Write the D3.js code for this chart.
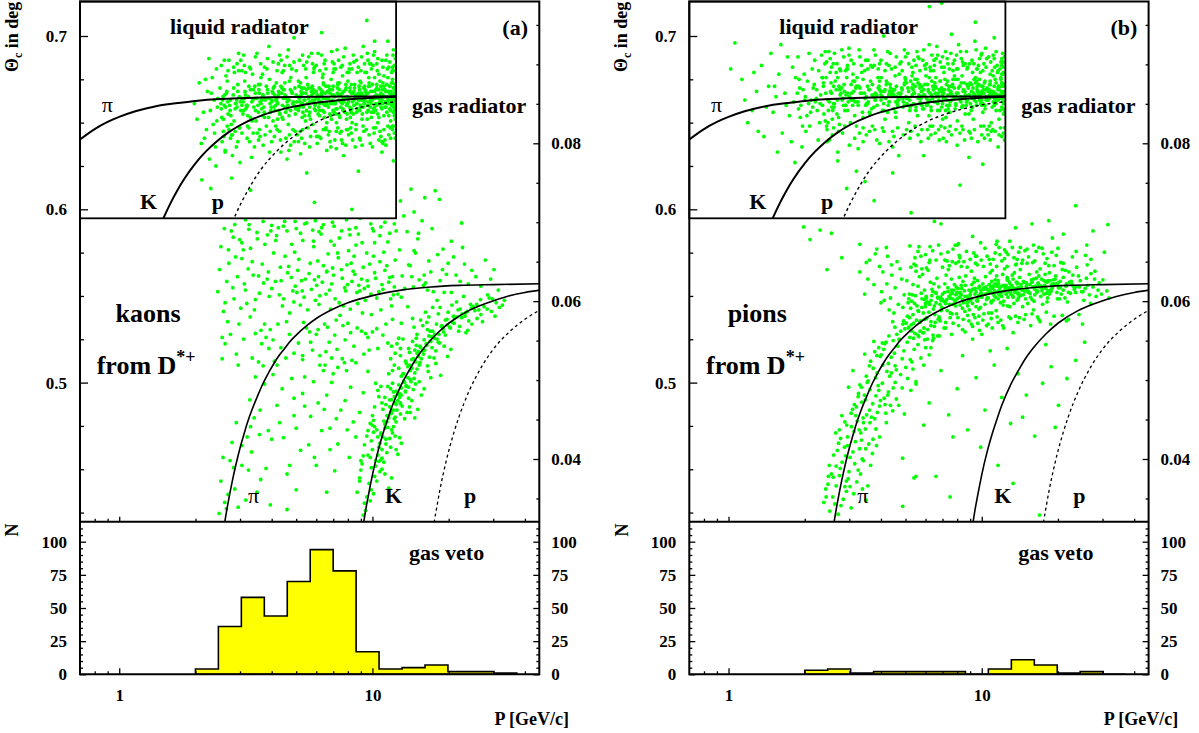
<!DOCTYPE html>
<html>
<head>
<meta charset="utf-8">
<title>Cherenkov angle vs momentum, kaons and pions from D*+</title>
<script src="https://d3js.org/d3.v7.min.js"></script>
<style>
  body { margin: 0; background: #fff; }
  svg { display: block; font-family: "Liberation Serif", "Times New Roman", serif; font-weight: bold; }
</style>
</head>
<body>
<script>
// ---- gas veto histograms (P in GeV/c) ----
var binEdges = [2.0, 2.464, 3.036, 3.741, 4.609, 5.679, 6.997, 8.621, 10.62, 13.09, 16.13, 19.87, 24.48, 30.17, 37.17];
var kaonVeto = [4, 36, 58, 44, 70, 94, 78, 17, 4, 5, 7, 2, 2, 1];
var pionVeto = [3, 4, 1, 2, 2, 2, 2, 0, 4, 11, 7, 1, 2, 0];

// ---- expected angles [P, theta] ----
var liqPi = [[0.7,.6403],[0.8,.6463],[0.9,.6504],[1.0,.6533],[1.15,.6564],[1.3,.6584],[1.5,.6603],[1.7,.6613],[2.0,.6625],[2.5,.6636],[3,.6641],[4,.6646],[6,.6650],[9,.6651],[13,.6652]];
var liqK = [[1.47,.5923],[1.5,.5953],[1.6,.6040],[1.7,.6112],[1.8,.6172],[2.0,.6265],[2.2,.6334],[2.4,.6386],[2.7,.6444],[3,.6485],[3.6,.6538],[4.5,.6581],[6,.6615],[8,.6634],[10,.6643],[13,.6650]];
var liqP = [[2.8,.5927],[2.9,.5978],[3.2,.6102],[3.6,.6223],[4.2,.6337],[5,.6432],[6,.6502],[7.5,.6558],[9,.6589],[13,.6625]];
var gasPi = [[2.58,.0309],[2.62,.0323],[2.7,.0347],[2.8,.0373],[2.9,.0395],[3.0,.0414],[3.1,.0430],[3.2,.0445],[3.35,.0463],[3.5,.0478],[3.7,.0496],[3.9,.0510],[4.1,.0522],[4.3,.0532],[4.5,.0540],[4.7,.0548],[5.0,.0557],[5.5,.0569],[6,.0578],[7,.0590],[8,.0598],[10,.0607],[13,.0614],[17,.0618],[22,.0620],[30,.0621],[46,.0622]];
var gasK = [[9.2,.0316],[9.26,.0322],[9.4,.0335],[9.6,.0351],[9.8,.0366],[10,.0380],[10.5,.0409],[11,.0432],[11.5,.0451],[12,.0468],[13,.0494],[14,.0513],[15,.0529],[16,.0541],[18,.0559],[20,.0572],[24,.0588],[28,.0597],[34,.0606],[40,.0611],[46,.0614]];
var gasP = [[17.4,.0312],[17.6,.0323],[18,.0341],[18.5,.0362],[19,.0380],[20,.0410],[21,.0434],[22,.0454],[24,.0485],[27,.0517],[30,.0539],[35,.0562],[40,.0577],[46,.0589]];

// ---- measured tracks [P, theta] ----
var kaonLiquid = [
[2.03,.652],[2.31,.667],[2.11,.638],[2.44,.659],[2.19,.675],[2.38,.644],[1.98,.661],[2.27,.629],[2.42,.681],[2.15,.656],[2.35,.649],[2.23,.668],[2.07,.673],[2.4,.636],[2.29,.657],[2.45,.664],[2.33,.676],[2.21,.646],[2.12,.617],[2.43,.651],[2.37,.663],[2.26,.687],[2.17,.641],[2.41,.625],[2.3,.612],
[3.42,.664],[7.9,.652],[5.13,.671],[10.8,.659],[2.71,.646],[6.34,.668],[4.27,.657],[11.9,.673],[8.66,.661],[3.08,.655],[9.47,.679],[5.82,.649],[2.56,.663],[7.18,.658],[4.71,.683],[12.2,.654],[3.86,.667],[6.02,.642],[10.2,.665],[2.94,.672],
[8.15,.670],[4.05,.651],[11.3,.662],[5.47,.676],[3.21,.648],[9.92,.656],[6.71,.664],[2.63,.659],[7.54,.645],[4.48,.669],[12.0,.680],[3.63,.661],[5.96,.657],[10.5,.650],[2.82,.666],[8.93,.674],[6.48,.660],[4.91,.639],[11.6,.668],[3.3,.653],
[7.36,.666],[5.27,.661],[9.18,.648],[2.5,.670],[6.87,.675],[3.97,.657],[10.9,.663],[4.36,.686],[8.4,.655],[12.3,.659],[3.14,.668],[5.69,.652],[7.71,.662],[2.77,.649],[9.73,.671],[4.59,.664],[6.19,.654],[11.1,.677],[3.51,.644],[8.79,.667],
[5.04,.658],[10.3,.669],[2.88,.661],[6.6,.650],[4.17,.673],[9.33,.663],[3.74,.656],[7.05,.681],[11.8,.651],[5.58,.665],[2.59,.642],[8.27,.658],[4.82,.667],[10.7,.674],[6.26,.662],[3.36,.678],[12.1,.663],[7.9,.646],[5.33,.659],[2.98,.665],
[9.61,.657],[4.43,.652],[6.95,.669],[3.18,.660],[11.4,.656],[5.88,.681],[8.53,.664],[2.67,.674],[7.44,.653],[4.0,.662],[10.1,.647],[6.42,.672],[3.56,.669],[12.3,.666],[5.19,.645],[8.98,.660],[2.76,.654],[7.27,.670],[4.65,.649],[11.0,.661],
[3.92,.675],[6.14,.659],[9.06,.667],[5.41,.663],[2.53,.658],[10.6,.653],[7.62,.677],[4.23,.661],[11.7,.671],[3.27,.639],[8.31,.650],[5.74,.668],[6.79,.655],[2.91,.663],[9.85,.684],[4.54,.656],[12.0,.648],[3.68,.665],[7.08,.661],[5.1,.674],
[8.72,.665],[2.65,.667],[6.53,.646],[4.11,.666],[10.4,.672],[3.45,.657],[7.83,.669],[5.62,.654],[11.2,.665],[2.84,.651],[9.27,.661],[4.76,.676],[6.22,.665],[3.09,.662],[8.07,.679],[12.2,.657],[5.29,.667],[3.81,.648],[7.49,.659],[10.0,.663],
[4.39,.670],[6.92,.663],[2.73,.660],[9.54,.652],[5.54,.661],[11.5,.676],[3.6,.672],[8.44,.668],[4.96,.655],[7.21,.650],[10.8,.667],[3.02,.657],[6.38,.678],[12.1,.670],[5.91,.663],[2.58,.652],[9.01,.673],[4.29,.645],[7.66,.664],[3.39,.669],
[11.9,.660],[5.16,.662],[8.23,.656],[2.96,.680],[6.67,.668],[4.6,.658],[10.2,.676],[3.77,.663],[7.97,.661],[5.79,.671],[12.3,.652],[3.24,.665],[9.41,.666],[4.87,.662],[6.06,.666],[2.69,.655],[11.3,.668],[8.62,.649],[4.13,.657],[7.31,.673],
[3.53,.660],[9.79,.664],[5.36,.670],[2.8,.643],[6.99,.657],[10.9,.658],[4.45,.664],[8.04,.664],[3.13,.674],[12.0,.675],[5.65,.659],[7.58,.667],[2.61,.666],[9.12,.655],[4.02,.668],[6.46,.653],[11.6,.663],[3.89,.653],[8.86,.671],[5.22,.666],
[7.12,.662],[10.4,.660],[4.51,.673],[2.87,.658],[6.29,.667],[9.36,.669],[3.34,.662],[5.99,.664],[11.1,.654],[4.19,.664],[8.35,.662],[2.54,.653],[7.78,.656],[12.2,.666],[5.49,.657],[3.72,.659],[9.67,.676],[6.57,.664],[4.68,.654],[10.6,.669],
[3.01,.662],[8.51,.672],[5.07,.665],[11.7,.658],[6.83,.661],[2.75,.663],[9.95,.668],[4.32,.655],[7.4,.673],[12.3,.672],[3.58,.667],[5.76,.666],[10.1,.656],[4.94,.670],[6.16,.670],[2.92,.659],[8.91,.657],[3.98,.659],[7.01,.666],[11.4,.665],
[5.31,.656],[9.2,.659],[2.68,.662],[6.73,.671],[4.08,.659],[10.7,.662],[3.43,.671],[8.12,.659],[5.85,.662],[12.1,.661],[3.16,.658],[7.59,.661],[4.74,.669],[9.88,.661],[6.36,.657],[2.57,.665],[11.0,.673],[4.41,.660],[8.69,.658],[3.65,.663],
[6.1,.664],[3.47,.651],[9.9,.653],[2.66,.668],[7.93,.665],[4.84,.661],[11.2,.669],[5.23,.668],[3.81,.671],[8.47,.663],[12.2,.667],[4.26,.668],[6.89,.652],[2.99,.647],[10.3,.661],[5.66,.662],[7.35,.663],[3.12,.664],[9.03,.663],[4.52,.666],
[10.6,.664],[5.44,.651],[2.83,.670],[7.65,.658],[3.69,.654],[8.9,.666],[6.51,.667],[4.14,.663],[11.8,.657],[5.02,.662],[3.22,.654],[9.58,.667],[6.98,.661],[2.52,.661],[8.18,.653],[4.63,.660],[12.3,.663],[3.94,.661],[7.16,.655],[5.84,.669],
[9.3,.671],[4.22,.652],[6.62,.660],[3.37,.663],[11.0,.666],[5.14,.664],[7.47,.662],[2.74,.657],[10.2,.659],[4.97,.658],[8.59,.666],[3.55,.656],[6.2,.661],[12.0,.664],[5.58,.670],[2.89,.661],[9.77,.662],[4.37,.667],[7.87,.670],[3.05,.660],
[6.41,.661],[11.6,.661],[3.63,.676],[8.26,.667],[5.28,.653],[2.6,.660],[9.09,.666],[4.69,.663],[7.26,.667],[10.8,.671],[3.19,.659],[5.93,.660],[12.1,.659],[4.06,.670],[6.77,.669],[2.94,.668],[8.78,.664],[3.76,.664],[11.3,.659],[5.37,.663],
[3.3,.611],[5.9,.604],[8.8,.622],[4.6,.629],[10.9,.633],[2.78,.618],[7.2,.635],[6.3,.702],[9.5,.709],[11.5,.697],[4.9,.699],[3.9,.694],[7.7,.631],[12.1,.628],[5.5,.621],[2.62,.633],[8.3,.600],[10.2,.697]
];
var kaonLiquidSpread = [
[3.27,.682],[8.9,.641],[5.6,.688],[2.62,.634],[10.4,.684],[4.2,.646],[6.9,.691],[12.0,.646],[3.7,.637],[7.6,.683],[2.85,.679],[9.7,.643],[4.65,.692],[11.3,.686],[5.2,.632],[6.2,.680],[3.05,.644],[8.4,.689],[10.9,.639],[4.9,.685],
[7.1,.640],[2.53,.683],[5.95,.645],[9.2,.694],[3.45,.688],[11.8,.641],[6.6,.634],[4.4,.679],[8.1,.681],[2.75,.641],[10.1,.689],[5.35,.683],[3.92,.633],[12.3,.687],[7.35,.686],[4.05,.685],[9.45,.646],[6.05,.638],[2.96,.690],[11.0,.682],
[5.05,.643],[8.65,.686],[3.12,.683],[10.7,.645],[6.45,.684],[2.67,.648],[7.85,.637],[4.55,.641],[12.1,.692],[3.58,.646],[9.0,.680],[5.75,.690],[2.9,.636],[11.5,.648],[6.75,.645],[4.3,.689],[8.25,.644],[3.33,.630],[10.2,.691],[7.0,.679],
[3.83,.681],[9.9,.681],[6.3,.689],[2.58,.645],[11.6,.643],[4.75,.637],[8.55,.636],[5.45,.681],[3.02,.686],[7.45,.644],[10.5,.687],[4.15,.648],[12.2,.683],[6.15,.642],[2.8,.631],[9.55,.690],[5.85,.679],[3.5,.690],[8.0,.646],[11.2,.640],
[4.45,.680],[7.25,.692],[2.71,.686],[10.0,.636],[5.15,.686],[8.8,.682],[3.2,.641],[11.9,.679],[6.55,.647],[4.0,.639],[9.3,.684],[2.98,.647],[7.7,.688],[5.65,.636],[12.3,.641],[3.62,.684],[10.6,.678],[6.0,.683],[4.85,.646],[8.35,.640],
[2.64,.677],[9.8,.638],[5.25,.641],[7.95,.679],[3.38,.644],[11.4,.689],[4.6,.688],[6.35,.676],[10.3,.647],[3.0,.627],[8.45,.685],[5.55,.647],[12.0,.682],[3.77,.643],[7.15,.681],[4.25,.684],[9.1,.637],[2.83,.682],[6.8,.639],[11.1,.646],
[4.1,.642],[6.5,.686],[8.2,.647],[3.15,.679],[10.8,.642],[5.0,.680],[2.55,.639],[7.55,.640],[9.6,.686],[3.55,.640],[11.7,.685],[6.1,.690],[4.7,.643],[8.7,.679],[2.92,.684],[10.05,.683],[5.4,.638],[7.3,.647],[12.2,.644],[3.85,.687],
[5.8,.684],[3.25,.647],[9.35,.679],[6.95,.685],[4.35,.633],[11.3,.637],[2.69,.680],[8.05,.643],[5.3,.689],[10.45,.680],[3.68,.678],[7.8,.693],[4.95,.645],[12.1,.648],[6.25,.641],[2.87,.645],[9.05,.688],[5.7,.642],[11.6,.682],[3.42,.636],
[8.6,.646],[4.5,.683],[6.7,.643],[3.1,.689],[10.6,.640],[7.05,.684],[2.6,.686],[9.75,.684],[5.1,.639],[12.3,.680],[3.95,.645],[7.5,.682],[4.8,.681],[11.0,.638],[6.4,.646],[3.3,.681],[8.3,.681],[5.5,.685],[10.15,.644],[2.78,.643],
[6.55,.681],[11.75,.647],[3.6,.642],[8.95,.640],[4.2,.680],[7.2,.645],[5.9,.682],[2.94,.639],[10.9,.686],[4.68,.634],[9.25,.645],[3.05,.680],[6.85,.636],[12.05,.689],[5.3,.646],[8.15,.684],[3.75,.682],[7.62,.638],[11.45,.681],[4.33,.640]
];
var kaonLiquidCore = [
[4.6,.662],[9.4,.668],[6.1,.655],[11.5,.664],[3.3,.669],[7.9,.660],[5.2,.673],[10.3,.657],[3.9,.664],[8.5,.670],[12.0,.661],[4.3,.655],[6.8,.667],[9.8,.659],[5.6,.664],[3.1,.657],[11.1,.671],[7.4,.654],[4.8,.668],[8.8,.663],
[6.4,.673],[10.7,.666],[3.6,.662],[5.9,.658],[12.3,.669],[7.1,.665],[9.1,.652],[4.1,.671],[8.2,.657],[11.8,.663],[3.45,.667],[6.6,.661],[10.0,.672],[5.4,.654],[7.7,.668],[4.5,.659],[9.6,.662],[12.1,.656],[6.25,.669],[3.75,.653],
[8.0,.674],[10.9,.661],[5.0,.666],[7.25,.658],[11.3,.668],[4.0,.663],[9.25,.670],[6.9,.662],[3.2,.660],[8.65,.656],[5.75,.670],[10.5,.655],[4.7,.674],[7.55,.663],[12.2,.659],[3.55,.672],[6.45,.656],[9.95,.664],[5.3,.661],[8.35,.667],
[11.6,.654],[4.25,.666],[7.0,.671],[10.2,.668],[3.35,.651],[6.0,.668],[8.95,.659],[5.5,.669],[11.9,.666],[4.4,.653],[9.5,.656],[6.7,.659],[3.85,.669],[7.85,.672],[10.8,.663],[5.1,.657],[12.3,.662],[4.9,.660],[8.1,.664],[6.3,.666],
[11.2,.659],[3.65,.658],[9.7,.673],[5.8,.663],[7.4,.669],[4.15,.660],[10.4,.670],[6.55,.671],[8.7,.661],[12.0,.673],[3.05,.664],[5.65,.656],[9.3,.665],[7.15,.661],[11.4,.672],[4.55,.665],[6.85,.654],[10.1,.658],[8.25,.672],[3.95,.656],
[5.25,.670],[11.7,.667],[7.65,.657],[9.0,.667],[4.35,.671],[6.15,.663],[10.6,.661],[3.5,.664],[8.45,.660],[12.2,.670],[5.45,.667],[7.95,.655],[9.85,.668],[4.75,.657],[11.0,.665],[6.4,.664],[3.25,.671],[8.9,.669],[5.95,.661],[10.35,.666],
[7.3,.672],[4.05,.667],[9.55,.660],[12.1,.665],[6.65,.668],[3.7,.666],[8.05,.662],[11.45,.661],[5.15,.659],[7.5,.666],[10.95,.669],[4.65,.663],[6.2,.657],[9.15,.663],[3.4,.659],[8.55,.665],[11.85,.668],[5.55,.672],[7.05,.656],[4.2,.662],
[10.25,.664],[6.95,.666],[3.15,.666],[9.65,.671],[5.85,.667],[8.15,.668],[12.25,.658],[4.45,.669],[7.75,.664],[11.25,.662]
];

var kaonGas = [
[2.45,.0612],[2.71,.0648],[2.58,.0587],[2.93,.0631],[2.52,.0669],[2.84,.0603],[2.66,.0625],[2.97,.0571],[2.77,.0689],[2.49,.0640],[2.88,.0656],[2.62,.0598],[2.81,.0617],[2.55,.0554],[2.99,.0678],
[3.12,.0622],[4.41,.0594],[3.67,.0647],[4.85,.0613],[3.29,.0580],[4.07,.0661],[3.84,.0628],[4.62,.0636],[3.45,.0602],[3.97,.0689],[4.23,.0571],[3.05,.0654],[4.96,.0619],[3.58,.0610],[4.33,.0643],[3.19,.0597],[3.76,.0672],[4.71,.0585],[3.38,.0633],[4.14,.0625],
[3.91,.0606],[4.52,.0657],[3.23,.0641],[3.63,.0563],[4.78,.0630],[3.02,.0591],[4.0,.0616],[3.51,.0679],[4.29,.0608],[3.35,.0650],[4.89,.0599],[3.72,.0623],[4.18,.0683],[3.15,.0614],[4.58,.0574],[3.88,.0637],[3.42,.0589],[4.36,.0626],[3.09,.0665],[4.67,.0644],
[3.55,.0632],[4.46,.0603],[3.8,.0554],[3.26,.0697],[4.93,.0662],
[5.43,.0628],[7.12,.0603],[6.08,.0651],[7.77,.0617],[5.19,.0595],[6.61,.0638],[5.86,.0669],[7.45,.0582],[6.34,.0624],[5.03,.0611],[7.93,.0646],[6.83,.0590],[5.62,.0635],[7.28,.0661],[6.2,.0607],[5.31,.0677],[7.6,.0629],[6.47,.0571],[5.74,.0615],[6.96,.0642],
[5.12,.0653],[7.39,.0598],[6.02,.0620],[5.55,.0589],[7.02,.0633],[6.68,.0660],[5.95,.0601],[7.84,.0613],[6.27,.0685],[5.25,.0626],[7.54,.0640],[6.55,.0609],[5.68,.0648],[7.19,.0576],[6.12,.0631],[5.37,.0605],[6.9,.0622],[5.81,.0690],[7.67,.0594],[6.4,.0645],
[5.07,.0639],[7.97,.0621],[6.76,.0614],[5.49,.0566],[7.33,.0655],[6.15,.0596],[5.9,.0627],[7.06,.0671],[6.59,.0637],[5.28,.0613],
[8.3,.0625],[10.6,.0612],[9.2,.0643],[11.7,.0630],[8.74,.0597],[10.1,.0657],[9.61,.0619],[12.1,.0608],[8.05,.0664],[11.2,.0639],[9.9,.0583],[8.52,.0634],[10.9,.0621],[9.37,.0601],[12.3,.0652],[8.92,.0613],[11.5,.0675],[10.3,.0629],[8.17,.0590],[9.74,.0647],
[11.9,.0594],[8.61,.0671],[10.4,.0604],[9.05,.0628],[11.0,.0615],[8.39,.0638],[12.0,.0631],[9.49,.0661],[10.8,.0589],[8.83,.0620],[11.4,.0645],[9.86,.0609],[8.24,.0648],[10.2,.0636],[12.2,.0618],[9.13,.0585],[11.1,.0662],[8.68,.0611],[10.7,.0650],[9.54,.0626],
[11.8,.0603],[8.46,.0657],[10.0,.0692],[9.29,.0616],[11.6,.0624],
[13.1,.0632],[16.7,.0651],[14.5,.0618],[18.9,.0640],[12.8,.0665],[15.3,.0627],[17.4,.0612],[13.7,.0688],[19.6,.0634],[14.1,.0645],[16.2,.0623],[12.6,.0609],[18.1,.0659],[15.7,.0702],[13.4,.0616],[17.0,.0637],[14.8,.0661],[19.2,.0611],[12.9,.0727],[16.5,.0614],
[13.9,.0646],[18.5,.0626],[15.1,.0679],[14.3,.0631],[17.7,.0740],[13.0,.0605],[16.0,.0633],[15.9,.0620],[19.9,.0648],[14.6,.0713],
[21.4,.0633],[26.8,.0619],[23.1,.0647],[29.3,.0628],[20.5,.0611],[24.7,.0639],[27.9,.0652],[22.2,.0625],[31.4,.0614],[25.6,.0631],[20.9,.0656],[28.5,.0608],[23.9,.0622],[30.2,.0640],[22.7,.0668],
[9.5,.0352],[9.9,.0361],[9.3,.0344],[10.2,.0378],[9.7,.0369],[9.4,.0335],[10.4,.0372],[9.8,.0347],[9.2,.0329],[10.1,.0356],
[10.3,.0391],[9.8,.0402],[10.9,.0387],[10.6,.0415],[11.4,.0408],[9.9,.0423],[10.8,.0431],[11.7,.0426],[10.4,.0437],[11.1,.0396],[10.0,.0412],[11.5,.0440],[10.7,.0384],[9.6,.0405],[12.0,.0433],[10.5,.0428],[11.3,.0419],[10.2,.0441],[11.9,.0437],[10.9,.0401],
[9.9,.0389],[11.2,.0444],[10.6,.0397],[12.3,.0429],[10.1,.0434],
[11.6,.0452],[12.4,.0447],[11.0,.0463],[12.9,.0471],[11.9,.0458],[13.5,.0486],[12.2,.0479],[11.3,.0469],[12.7,.0494],[13.9,.0477],[11.8,.0489],[12.5,.0462],[14.2,.0498],[11.4,.0455],[13.1,.0467],[12.0,.0496],[13.7,.0459],[12.8,.0483],[11.7,.0475],[14.5,.0488],
[12.3,.0453],[13.3,.0499],[11.1,.0448],[12.6,.0474],[13.0,.0481],[14.0,.0466],[11.5,.0492],[12.1,.0485],[13.6,.0493],[12.9,.0457],[11.2,.0478],[14.8,.0495],[12.4,.0469],[13.4,.0451],[11.9,.0462],
[14.1,.0512],[13.0,.0505],[15.6,.0527],[14.7,.0538],[13.6,.0521],[16.3,.0546],[15.0,.0514],[12.9,.0531],[17.2,.0541],[14.4,.0549],[15.9,.0533],[13.8,.0517],[16.8,.0529],[14.9,.0544],[13.3,.0508],[17.8,.0537],[15.3,.0519],[14.0,.0535],[16.0,.0551],[18.4,.0547],
[13.5,.0524],[15.4,.0543],[14.6,.0502],[16.5,.0518],[12.7,.0515],[17.5,.0528],[15.2,.0536],[14.3,.0526],[16.9,.0549],[13.9,.0540],
[17.6,.0558],[20.3,.0566],[16.4,.0573],[22.5,.0579],[19.1,.0561],[25.4,.0588],[18.2,.0584],[21.0,.0572],[27.6,.0593],[16.9,.0562],[23.3,.0585],[19.7,.0577],[30.8,.0598],[18.8,.0569],[24.6,.0591],[20.9,.0581],[17.1,.0555],[26.7,.0602],[21.8,.0589],[19.4,.0557],
[28.9,.0604],[22.1,.0568],[18.5,.0592],[24.0,.0575],[33.2,.0601],[20.6,.0595],[16.7,.0580],[23.8,.0563],[29.5,.0587],[19.9,.0586],[25.9,.0578],[21.5,.0599],[17.9,.0571],[31.7,.0592],[22.9,.0606],
[2.52,.0372],[2.61,.0345],[2.74,.0398],[2.48,.0331],[2.86,.0362],[3.05,.0417],[2.69,.0355],[3.24,.0386],[2.95,.0339],[3.41,.0452],[2.57,.0402],[3.16,.0348],[2.79,.0421],[3.62,.0374],[3.88,.0436],[2.65,.0337],[4.2,.0468],[3.33,.0409],[4.71,.0392],[2.9,.0446],
[5.3,.0483],[3.5,.0358],[4.45,.0427],[6.1,.0471],[3.75,.0495],[5.0,.0361],[6.8,.0439],[4.05,.0507],[7.5,.0462],[5.6,.0418],[8.2,.0491],[3.95,.0342],[6.4,.0512],[4.9,.0455],[7.1,.0385],[5.85,.0498],[8.6,.0428],[3.28,.0475],[4.6,.0336],[6.6,.0358],
[7.9,.0512],[5.4,.0504],[8.9,.0376],[2.83,.0389],[3.58,.0431]
];
var kaonGasSpread = [
[3.3,.0667],[5.8,.0538],[8.1,.0691],[4.1,.0524],[10.2,.0674],[2.75,.0558],[6.4,.0697],[12.7,.0553],[3.7,.0701],[7.3,.0516],[9.4,.0559],[4.6,.0689],[15.2,.0686],[5.1,.0547],[2.6,.0692],[11.3,.0571],[6.9,.0528],[3.95,.0564],[8.8,.0685],[18.4,.0729],
[5.5,.0699],[2.9,.0533],[7.8,.0551],[10.8,.0694],[4.35,.0541],[13.8,.0593],[6.1,.0564],[3.15,.0703],[9.1,.0674],[5.3,.0531],[11.7,.0686],[4.8,.0672],[7.05,.0695],[2.68,.0574],[8.45,.0543],[16.1,.0731],[3.55,.0523],[6.65,.0567],[12.2,.0698],[4.0,.0696],
[9.7,.0538],[3.45,.0559],[6.2,.0531],[11.0,.0557],[4.95,.0701],[8.0,.0572],[2.82,.0681],[7.55,.0689],[5.7,.0548],[14.6,.0664],[3.85,.0684],[10.5,.0540],[6.85,.0676],[4.45,.0695],[9.05,.0562],[2.55,.0527],[12.0,.0577],[5.95,.0702],[7.25,.0539],[20.5,.0676],
[4.25,.0693],[8.6,.0693],[3.05,.0674],[6.5,.0519],[10.0,.0561],[5.2,.0686],[13.3,.0708],[7.65,.0569],[3.65,.0546],[9.85,.0698],[4.7,.0558],[11.5,.0547],[6.0,.0558],[2.95,.0519],[8.3,.0525],[17.2,.0692],[5.4,.0698],[7.9,.0703],[3.25,.0691],[10.7,.0683],
[6.75,.0548],[4.15,.0677],[9.25,.0533],[2.7,.0665],[11.9,.0543],[5.65,.0561],[7.4,.0680],[3.5,.0687],[8.95,.0705],[4.9,.0534],[14.2,.0742],[6.3,.0693],[3.1,.0552],[10.4,.0565],[5.0,.0692],[7.1,.0557],[12.4,.0689],[4.55,.0528],[8.15,.0684],[22.5,.0699],
[3.9,.0540],[6.95,.0700],[10.1,.0689],[5.85,.0676],[2.86,.0697],[8.7,.0566],[4.5,.0701],[11.2,.0700],[6.55,.0536],[3.35,.0528],[9.6,.0554],[5.35,.0573],[7.75,.0522],[4.05,.0551],[13.0,.0572],[2.62,.0546],[8.2,.0560],[6.15,.0688],[19.0,.0666],[3.75,.0571],
[8.9,.0372],[11.2,.0381],[9.1,.0394],[11.6,.0363],[8.7,.0358],[10.8,.0399],[9.0,.0386],[11.9,.0376],
[9.3,.0418],[12.4,.0412],[9.6,.0436],[12.8,.0427],[9.2,.0404],[12.1,.0441],[9.8,.0445],[13.0,.0420],[9.5,.0429],[12.6,.0406],[10.0,.0443],[11.8,.0415],
[10.2,.0466],[14.3,.0474],[10.5,.0487],[15.1,.0463],[10.0,.0455],[13.9,.0491],[10.6,.0479],[15.6,.0481],[10.3,.0496],[14.7,.0452],[10.9,.0471],[15.3,.0498],[10.1,.0449],[14.1,.0459],[10.8,.0492],[16.0,.0489],
[12.0,.0512],[17.8,.0521],[12.3,.0534],[18.6,.0506],[11.8,.0527],[19.2,.0543],[12.5,.0546],[17.0,.0503],[12.9,.0540],[19.8,.0530],[11.6,.0508],[18.2,.0548],[13.2,.0552],[20.4,.0539],[12.2,.0519],[16.6,.0511],
[15.0,.0558],[24.7,.0571],[14.6,.0567],[26.8,.0583],[15.5,.0576],[21.9,.0562],[16.2,.0586],[28.4,.0590],[14.9,.0553],[23.4,.0560],[17.3,.0592],[30.5,.0581],[15.8,.0569],[25.8,.0596],[18.0,.0601],[27.2,.0574],[16.5,.0564],[32.6,.0595],[14.4,.0578],[29.8,.0603],
[4.4,.0489],[6.3,.0436],[3.6,.0462],[7.8,.0474],[5.2,.0411],[8.9,.0459],[4.0,.0425],[6.9,.0497],[3.3,.0441],[7.3,.0419],[5.7,.0454],[9.2,.0484],[4.8,.0502],[6.0,.0392],[3.8,.0388],[8.4,.0447],[5.4,.0467],[7.0,.0508],[4.2,.0519],[6.6,.0481],
[3.45,.0504],[8.1,.0402],[5.0,.0439],[9.6,.0511],[4.6,.0381],[7.6,.0527],[3.2,.0428],[6.2,.0519],[5.9,.0402],[8.6,.0522],[4.3,.0446],[7.2,.0451],[3.7,.0518],[5.3,.0526],[6.8,.0412],[9.0,.0398],[4.9,.0477],[3.05,.0392],[6.45,.0463],[7.95,.0437]
];
var kaonGasBandCore = [
[10.5,.0405],[11.0,.0428],[10.7,.0420],[11.4,.0447],[10.9,.0412],[11.8,.0459],[11.2,.0439],[12.3,.0471],[11.6,.0455],[12.1,.0462],[12.6,.0482],[11.9,.0475],[13.0,.0490],[12.8,.0478],[13.4,.0497],[12.4,.0486],[13.8,.0503],[13.2,.0508],[14.3,.0515],[13.6,.0492],
[14.8,.0523],[14.0,.0519],[15.2,.0530],[14.5,.0527],[15.8,.0537],[15.0,.0534],[16.4,.0544],[15.5,.0541],[17.0,.0549],[16.1,.0538],[17.6,.0553],[16.7,.0556],[18.3,.0558],[17.3,.0562],[19.0,.0565],[18.0,.0552],[19.8,.0570],[18.7,.0568],[20.7,.0573],[19.4,.0576],
[21.6,.0580],[20.2,.0567],[22.6,.0584],[21.1,.0578],[23.7,.0587],[22.2,.0590],[25.0,.0593],[23.2,.0581],[26.3,.0589],[24.4,.0596],[10.3,.0398],[10.8,.0433],[11.3,.0425],[11.7,.0466],[12.2,.0451],[12.9,.0470],[13.5,.0485],[14.1,.0501],[14.7,.0509],[15.4,.0522]
];

var pionLiquid = [
[1.06,.696],[1.52,.671],[1.24,.657],[1.71,.688],[1.13,.675],[1.63,.644],[1.35,.683],[1.81,.662],[1.19,.650],[1.47,.690],[1.77,.639],[1.29,.668],[1.58,.678],[1.02,.681],[1.41,.659],[1.67,.667],[1.84,.676],[1.31,.645],[1.56,.633],[1.74,.654],
[1.44,.671],[1.16,.663],[1.61,.695],[1.38,.642],[1.79,.682],[1.5,.656],[1.26,.679],[1.69,.660],[1.83,.627],[1.54,.665],
[2.31,.666],[1.92,.653],[2.52,.679],[2.07,.661],[1.88,.688],[2.44,.648],[2.18,.672],[2.58,.657],[1.97,.669],[2.26,.640],[2.4,.684],[2.11,.656],[2.55,.667],[1.9,.675],[2.35,.660],[2.02,.645],[2.49,.691],[2.22,.664],[1.95,.636],[2.6,.671],
[2.14,.681],[2.38,.655],[1.87,.667],[2.47,.663],[2.05,.674],[2.29,.650],[2.56,.659],[1.99,.678],[2.2,.662],[2.43,.676],[1.93,.660],[2.33,.689],[2.09,.648],[2.53,.668],[2.24,.657],[2.01,.665],[2.45,.639],[2.16,.670],[2.59,.684],[1.89,.658],
[2.37,.673],[2.04,.654],[2.5,.662],[2.27,.680],[1.96,.648],[2.42,.667],[2.12,.663],[2.57,.652],[2.19,.686],[2.35,.676],[1.91,.670],[2.48,.657],[2.08,.690],[2.3,.661],[2.54,.673],[2.0,.663],[2.41,.651],[2.23,.669],[2.6,.661],[2.15,.659],
[4.12,.668],[8.6,.655],[3.05,.672],[6.77,.663],[11.2,.660],[2.74,.649],[5.31,.677],[9.4,.666],[3.67,.658],[7.42,.671],[12.1,.664],[4.58,.653],[2.95,.681],[6.09,.660],[10.3,.674],[3.29,.644],[8.05,.667],[5.72,.662],[2.66,.669],[11.8,.657],
[7.01,.652],[3.83,.666],[9.88,.679],[5.07,.661],[2.81,.663],[6.48,.686],[10.9,.650],[4.36,.670],[8.27,.662],[3.15,.674],[12.3,.668],[5.49,.657],[7.73,.665],[2.7,.676],[9.15,.659],[4.79,.667],[6.25,.648],[11.4,.673],[3.51,.661],[8.94,.684],
[5.9,.669],[2.88,.657],[10.6,.663],[4.01,.676],[7.28,.660],[3.4,.653],[12.0,.678],[6.63,.665],[8.43,.646],[4.95,.672],[2.62,.661],[9.63,.668],[3.76,.683],[5.58,.654],[11.0,.666],[7.88,.675],[4.27,.660],[6.94,.670],[3.0,.665],[10.1,.656],
[8.19,.671],[3.58,.669],[6.32,.657],[11.6,.680],[4.67,.663],[2.78,.667],[9.26,.652],[5.24,.674],[7.55,.668],[3.21,.662],[12.2,.655],[6.02,.677],[4.44,.645],[10.7,.669],[2.99,.689],[8.76,.663],[5.8,.660],[3.93,.671],[7.16,.664],[11.1,.677],
[4.88,.659],[9.74,.672],[3.36,.679],[6.55,.667],[2.68,.655],[10.4,.665],[5.15,.650],[7.95,.681],[4.18,.664],[12.3,.657],[3.12,.668],[8.52,.673],[6.13,.663],[2.86,.672],[11.3,.662],[5.65,.687],[3.7,.648],[9.02,.661],[7.37,.658],[4.53,.669],
[10.0,.668],[6.86,.674],[3.46,.664],[8.34,.659],[5.36,.669],[2.93,.676],[11.9,.671],[4.06,.657],[7.61,.663],[3.89,.676],[9.52,.665],[6.19,.654],[4.72,.678],[12.1,.667],[3.25,.660],[8.01,.651],[5.96,.672],[2.76,.666],[10.8,.678],[4.31,.662],
[7.09,.679],[3.62,.655],[11.5,.664],[5.42,.667],[2.84,.660],[9.33,.675],[4.62,.665],[6.41,.671],[10.2,.648],[3.18,.670],[8.68,.660],[5.02,.665],[12.0,.683],[3.99,.668],[7.47,.656],[6.7,.661],[2.64,.674],[9.81,.663],[4.23,.673],[11.7,.652],
[5.55,.675],[8.89,.666],[3.09,.660],[6.99,.666],[4.49,.658],[10.5,.670],[2.91,.666],[7.81,.664],[3.79,.663],[12.2,.679],[5.19,.663],[9.09,.657],[6.28,.680],[4.15,.652],[11.1,.668],[3.32,.667],[8.36,.677],[5.75,.665],[2.72,.653],[10.1,.661],
[6.59,.676],[3.54,.671],[9.58,.669],[4.83,.670],[7.22,.653],[12.3,.662],[2.97,.662],[5.31,.666],[8.12,.664],[3.86,.660],[10.9,.667],[6.05,.664],[4.39,.667],[11.6,.669],[3.03,.650],[7.67,.672],[5.84,.658],[9.24,.670],[2.8,.670],[4.96,.673],
[8.47,.669],[4.1,.661],[6.44,.669],[11.0,.659],[3.44,.667],[7.33,.674],[5.11,.670],[10.3,.660],[2.69,.663],[9.7,.665],[4.64,.661],[6.81,.657],[12.0,.673],[3.64,.674],[8.83,.671],[5.37,.661],[2.87,.668],[7.9,.661],[4.29,.666],[10.6,.668],
[5.68,.672],[9.98,.663],[3.27,.671],[7.06,.667],[4.56,.656],[11.4,.661],[2.77,.680],[6.16,.668],[8.21,.663],[3.73,.665],[12.1,.658],[5.27,.660],[9.45,.673],[4.0,.666],[6.66,.662],[10.8,.672],[3.11,.663],[7.52,.668],[5.89,.666],[2.61,.659],
[9.16,.664],[4.77,.665],[7.79,.670],[3.38,.656],[11.8,.666],[5.46,.671],[6.34,.666],[2.9,.660],[10.4,.663],[4.2,.672],[8.58,.668],[3.81,.663],[6.97,.669],[12.2,.671],[5.03,.664],[9.88,.666],[3.16,.662],[7.43,.660],[4.47,.669],[11.2,.666],
[6.53,.673],[3.56,.662],[8.74,.662],[5.21,.659],[10.7,.664],[2.83,.664],[7.14,.669],[4.32,.668],[9.29,.667],[3.95,.669],[6.11,.661],[11.9,.675],[4.86,.664],[8.29,.665],[3.22,.676],[5.61,.664],[10.0,.671],[7.63,.666],[2.73,.671],[4.68,.667],
[7.85,.665],[4.98,.676],[3.48,.660],[9.53,.660],[6.24,.663],[11.3,.667],[2.95,.657],[5.78,.668],[8.41,.660],[4.09,.668],[12.3,.666],[6.73,.667],[3.69,.666],[10.2,.667],[5.14,.668],[7.29,.663],[3.06,.667],[9.11,.672],[4.57,.662],[11.6,.663],
[2.93,.612],[3.76,.605],[4.45,.621],[5.26,.598],[6.21,.717],[6.95,.719],[3.46,.616],[4.97,.703],[9.44,.708],[8.21,.614],[3.2,.622],[7.6,.701],[11.2,.699],[2.7,.628],[5.9,.631],[10.1,.626],[4.1,.700],[8.9,.630]
];
var pionLiquidSpread = [
[3.4,.647],[7.7,.684],[5.1,.690],[2.45,.646],[9.6,.681],[4.3,.639],[11.2,.687],[6.4,.648],[2.95,.683],[8.2,.644],[3.75,.692],[10.5,.646],[5.6,.643],[12.1,.690],[4.8,.685],[2.7,.633],[7.0,.688],[9.1,.641],[3.15,.641],[6.2,.695],
[11.7,.643],[5.3,.682],[8.7,.691],[2.52,.687],[4.05,.647],[6.8,.640],[10.2,.684],[3.55,.686],[12.3,.647],[7.4,.645],[2.82,.644],[5.85,.686],[9.4,.697],[4.55,.682],[3.25,.635],[11.0,.680],[6.05,.684],[8.0,.637],[2.62,.690],[10.8,.640],
[4.25,.691],[7.9,.646],[3.05,.686],[9.9,.648],[5.45,.648],[2.34,.676],[6.6,.687],[11.5,.683],[3.85,.640],[8.45,.683],[4.7,.631],[10.0,.690],[6.95,.682],[2.88,.648],[12.0,.642],[5.15,.684],[7.25,.639],[3.45,.680],[9.15,.686],[4.1,.645],
[6.3,.643],[2.57,.643],[8.9,.645],[5.0,.688],[10.7,.648],[3.65,.683],[7.55,.690],[4.4,.681],[11.9,.685],[2.75,.681],[6.75,.646],[9.65,.639],[3.3,.688],[5.75,.639],[8.3,.687],[12.2,.682],[4.9,.643],[2.41,.691],[7.1,.682],[10.35,.693],
[3.95,.684],[5.55,.691],[8.55,.640],[2.99,.693],[10.9,.645],[6.5,.683],[4.6,.688],[11.6,.636],[3.2,.648],[7.8,.686],[2.5,.640],[9.3,.684],[5.25,.645],[12.3,.688],[4.15,.680],[6.9,.648],[3.5,.643],[8.1,.695],[10.1,.680],[2.68,.684],
[7.45,.681],[4.5,.642],[9.8,.687],[3.1,.678],[6.1,.646],[11.3,.645],[2.85,.688],[5.7,.680],[8.75,.681],[3.8,.689],[10.6,.643],[4.95,.692],[7.15,.647],[12.1,.678],[2.6,.647],[6.65,.694],[9.0,.644],[3.35,.683],[5.4,.686],[11.1,.689],
[2.55,.682],[8.35,.648],[4.75,.684],[10.4,.682],[6.0,.681],[3.6,.645],[11.8,.681],[5.2,.641],[7.6,.643],[2.9,.680],[9.5,.692],[4.2,.684],[12.2,.644],[6.45,.680],[3.0,.637],[8.05,.681],[5.9,.692],[10.85,.685],[3.7,.682],[7.3,.687],
[4.65,.647],[9.2,.679],[2.47,.650],[6.85,.685],[11.4,.691],[3.9,.681],[8.6,.684],[5.35,.679],[10.25,.641],[2.8,.692],[7.05,.641],[4.35,.690],[12.0,.687],[6.25,.682],[3.4,.639],[9.7,.683],[5.05,.646],[7.95,.689],[2.66,.679],[11.05,.646],
[6.7,.689],[3.55,.681],[10.65,.688],[5.8,.646],[2.44,.685],[8.25,.691],[4.45,.636],[11.55,.679],[7.35,.684],[3.12,.684],[9.35,.646],[5.5,.683],[12.3,.640],[4.0,.686],[6.55,.644],[2.93,.681],[8.8,.682],[10.0,.643],[3.78,.646],[7.7,.680],
[5.95,.683],[2.72,.645],[9.55,.681],[4.85,.680],[7.2,.691],[3.28,.692],[11.25,.682],[6.15,.641],[8.4,.685],[3.48,.686],[10.45,.687],[5.6,.688],[2.37,.671],[12.15,.685],[4.3,.683],[7.5,.648],[9.95,.689],[3.95,.638],[6.35,.689],[11.85,.647]
];
var pionLiquidCore = [
[4.4,.666],[8.8,.672],[5.9,.658],[11.0,.667],[3.2,.671],[7.5,.662],[5.0,.675],[10.0,.660],[3.8,.667],[8.3,.673],[11.8,.664],[4.1,.657],[6.6,.670],[9.5,.662],[5.4,.667],[2.9,.660],[10.8,.674],[7.2,.657],[4.6,.671],[8.6,.666],
[6.2,.676],[10.4,.669],[3.5,.665],[5.7,.661],[12.2,.672],[6.9,.668],[8.9,.655],[3.95,.674],[7.9,.660],[11.5,.666],[3.3,.670],[6.4,.664],[9.8,.675],[5.2,.657],[7.6,.671],[4.3,.662],[9.3,.665],[12.0,.659],[6.1,.672],[3.6,.656],
[7.8,.677],[10.6,.664],[4.85,.669],[7.0,.661],[11.2,.671],[3.85,.666],[9.0,.673],[6.75,.665],[3.05,.663],[8.4,.659],[5.6,.673],[10.3,.658],[4.55,.677],[7.35,.666],[12.1,.662],[3.4,.675],[6.3,.659],[9.7,.667],[5.1,.664],[8.1,.670],
[11.4,.657],[4.15,.669],[6.85,.674],[10.1,.671],[3.15,.654],[5.8,.671],[8.7,.662],[5.35,.672],[11.7,.669],[4.25,.656],[9.2,.659],[6.5,.662],[3.7,.672],[7.7,.675],[10.7,.666],[4.95,.660],[12.3,.665],[4.7,.663],[7.95,.667],[6.15,.669],
[11.1,.662],[3.55,.661],[9.45,.676],[5.65,.666],[7.25,.672],[4.0,.663],[10.25,.673],[6.35,.674],[8.55,.664],[11.9,.676],[2.95,.667],[5.5,.659],[9.1,.668],[7.05,.664],[11.3,.675],[4.45,.668],[6.7,.657],[9.9,.661],[8.05,.675],[3.75,.659],
[5.05,.673],[11.6,.670],[7.45,.660],[8.85,.670],[4.2,.674],[5.95,.666],[10.5,.664],[3.35,.667],[8.25,.663],[12.0,.673],[5.3,.670],[7.85,.658],[9.6,.671],[4.65,.660],[10.9,.668],[6.25,.667],[3.1,.674],[8.75,.672],[5.75,.664],[10.15,.669],
[7.15,.675],[3.9,.670],[9.35,.663],[11.95,.668],[6.55,.671],[3.6,.669],[7.9,.665],[11.25,.664],[4.9,.662],[7.4,.669],[10.75,.672],[4.5,.666],[6.05,.660],[8.95,.666],[3.25,.662],[8.45,.668],[11.65,.671],[5.45,.675],[6.95,.659],[4.05,.665],
[10.05,.667],[6.8,.669],[2.75,.669],[9.55,.674],[5.7,.670],[7.65,.671],[12.2,.661],[4.35,.672],[7.55,.667],[11.05,.665]
];

var pionGas = [
[2.51,.0334],[2.78,.0341],[2.43,.0352],[3.05,.0338],[2.66,.0366],[2.92,.0359],[2.38,.0345],[3.21,.0371],[2.59,.0377],[2.84,.0349],[2.71,.0330],[3.38,.0362],[2.47,.0368],[2.97,.0375],[2.63,.0343],[3.12,.0356],[2.55,.0381],[2.88,.0365],[3.5,.0348],[2.74,.0379],
[2.66,.0391],[3.02,.0402],[2.87,.0415],[3.41,.0398],[2.95,.0428],[3.25,.0386],[2.74,.0437],[3.58,.0419],[3.1,.0409],[2.81,.0396],[3.33,.0433],[3.06,.0441],[2.69,.0411],[3.72,.0425],[2.99,.0384],[3.17,.0422],[3.47,.0438],[2.9,.0404],[3.29,.0413],[2.77,.0426],
[3.64,.0392],[3.13,.0435],[3.84,.0417],[2.93,.0443],[3.37,.0400],
[3.22,.0448],[3.51,.0456],[3.09,.0463],[3.78,.0451],[3.36,.0472],[3.95,.0467],[3.44,.0481],[3.18,.0455],[4.12,.0477],[3.62,.0488],[3.3,.0494],[3.87,.0459],[3.56,.0499],[4.28,.0485],[3.41,.0446],[3.71,.0470],[3.26,.0483],[4.05,.0496],[3.6,.0462],[3.92,.0487],
[3.47,.0475],[4.36,.0468],[3.35,.0491],[3.82,.0480],[3.67,.0453],[4.18,.0458],[3.53,.0497],[3.98,.0474],[3.14,.0469],[4.47,.0490],
[3.81,.0503],[4.22,.0511],[3.64,.0524],[4.55,.0518],[4.01,.0532],[4.78,.0507],[3.92,.0541],[4.39,.0529],[4.93,.0537],[3.73,.0515],[4.14,.0546],[5.22,.0526],[4.47,.0550],[3.86,.0509],[4.66,.0543],[4.28,.0521],[5.08,.0548],[3.97,.0530],[4.6,.0513],[5.41,.0539],
[4.33,.0505],[4.85,.0527],[4.07,.0519],[5.6,.0545],[4.52,.0534],[4.19,.0548],[5.01,.0516],[3.78,.0536],[4.73,.0552],[5.3,.0523],
[4.62,.0558],[5.14,.0566],[4.88,.0571],[5.71,.0562],[4.45,.0574],[5.38,.0553],[6.05,.0578],[4.97,.0565],[5.52,.0576],[6.3,.0569],[4.71,.0551],[5.85,.0560],[5.19,.0579],[6.55,.0573],[4.54,.0567],[5.64,.0555],[6.12,.0564],[5.03,.0572],[4.79,.0562],[5.93,.0577],
[6.42,.0557],[5.27,.0570],[6.78,.0580],[5.45,.0559],[4.91,.0575],
[4.12,.0601],[4.55,.0617],[4.31,.0589],[4.83,.0628],[4.02,.0612],[4.68,.0596],[4.41,.0633],[4.94,.0608],[4.22,.0622],[4.76,.0641],[4.5,.0585],[4.07,.0637],[4.88,.0592],[4.36,.0604],[4.63,.0650],
[5.12,.0598],[6.41,.0612],[5.63,.0587],[6.88,.0605],[5.35,.0621],[6.07,.0579],[5.81,.0603],[6.65,.0629],[5.24,.0591],[6.22,.0596],[5.94,.0614],[6.53,.0583],[5.47,.0607],[6.96,.0592],[5.06,.0626],[6.31,.0601],[5.72,.0575],[6.77,.0618],[5.55,.0594],[6.14,.0639],
[5.18,.0609],[6.6,.0598],[5.88,.0585],[6.47,.0622],[5.39,.0572],[6.03,.0606],[5.67,.0631],[6.92,.0588],[5.29,.0600],[6.36,.0615],[5.99,.0593],[6.71,.0604],[5.5,.0645],[6.18,.0586],[5.77,.0610],[6.84,.0596],[5.09,.0581],[6.27,.0624],[5.43,.0597],[6.58,.0611],
[5.91,.0566],[6.99,.0602],[5.6,.0619],[6.1,.0599],[5.32,.0608],[6.44,.0590],[5.84,.0634],[6.73,.0577],[5.15,.0603],[6.24,.0652],
[7.12,.0611],[8.47,.0598],[9.31,.0624],[7.68,.0603],[8.93,.0589],[7.35,.0617],[9.72,.0607],[8.15,.0630],[7.89,.0594],[9.05,.0612],[7.51,.0585],[8.62,.0620],[9.54,.0601],[7.23,.0633],[8.3,.0608],[9.88,.0592],[7.77,.0614],[8.76,.0643],[9.19,.0597],[7.42,.0606],
[8.05,.0579],[9.63,.0626],[7.96,.0609],[8.39,.0591],[7.06,.0600],[9.42,.0616],[8.84,.0604],[7.59,.0628],[9.97,.0610],[8.22,.0595],[7.3,.0588],[9.1,.0638],[8.54,.0613],[7.84,.0599],[9.26,.0583],[7.15,.0622],[8.69,.0606],[9.8,.0619],[7.64,.0610],[8.11,.0650],
[9.49,.0593],[7.93,.0618],[8.99,.0601],[7.47,.0596],[9.36,.0629],[8.27,.0609],[7.71,.0572],[9.68,.0605],[8.43,.0625],[7.19,.0597],[9.92,.0614],[8.58,.0587],[7.55,.0609],[9.14,.0621],[8.0,.0603],[7.38,.0640],[8.8,.0594],[9.58,.0602],[7.8,.0621],[8.34,.0616],
[9.01,.0608],[7.27,.0602],[8.64,.0632],[9.75,.0590],[7.99,.0611],[8.89,.0600],[7.63,.0584],[9.23,.0615],[8.18,.0605],[9.45,.0657],
[10.4,.0618],[12.7,.0605],[11.3,.0627],[13.5,.0612],[10.9,.0598],[12.1,.0634],[13.1,.0620],[11.7,.0608],[10.2,.0615],[13.8,.0601],[11.0,.0639],[12.4,.0616],[10.6,.0604],[13.3,.0628],[11.5,.0611],[12.9,.0593],[10.1,.0622],[11.9,.0607],[13.6,.0646],[10.7,.0613],
[12.2,.0600],[11.2,.0621],[13.9,.0617],[10.3,.0596],[12.6,.0630],[11.6,.0603],[13.0,.0609],[10.8,.0636],[12.0,.0619],[11.4,.0588],[13.7,.0624],[10.5,.0610],[12.8,.0614],[11.1,.0601],[13.2,.0633],[10.0,.0606],[12.3,.0641],[11.8,.0617],[13.4,.0597],[10.95,.0625],
[12.5,.0609],[11.25,.0613],[13.95,.0604],[10.35,.0631],[12.15,.0595],[11.65,.0622],[13.15,.0615],[10.65,.0585],[12.45,.0620],[11.35,.0605],[13.55,.0611],[10.15,.0644],[12.75,.0626],[11.85,.0598],[13.25,.0607],[10.85,.0618],[12.05,.0612],[11.45,.0632],[13.85,.0623],[10.45,.0602],
[12.65,.0594],[11.05,.0610],[13.45,.0636],[10.75,.0621],[12.95,.0616],
[14.3,.0621],[17.6,.0609],[15.4,.0634],[18.8,.0615],[16.1,.0600],[19.5,.0628],[14.8,.0612],[17.0,.0641],[15.9,.0618],[18.2,.0604],[14.1,.0630],[16.6,.0613],[19.1,.0622],[15.2,.0597],[17.9,.0625],[14.6,.0608],[18.5,.0636],[16.3,.0619],[15.7,.0627],[19.8,.0611],
[14.9,.0603],[17.3,.0616],[16.8,.0632],[18.1,.0599],[15.0,.0623],[19.3,.0645],[14.4,.0614],[17.7,.0620],[16.0,.0589],[18.6,.0626],[15.5,.0610],[14.2,.0640],[17.1,.0606],[19.0,.0617],[16.4,.0629],[15.8,.0602],[18.3,.0613],[14.7,.0624],[17.4,.0596],[16.9,.0618],
[19.6,.0632],[15.3,.0611],[18.9,.0621],[14.5,.0593],[17.2,.0628],[16.2,.0608],[15.1,.0648],[18.0,.0610],[19.9,.0603],[16.7,.0623],[14.0,.0616],[17.8,.0634],[15.6,.0605],[18.7,.0612],[16.5,.0637],
[20.4,.0625],[24.8,.0612],[22.1,.0637],[27.5,.0618],[21.3,.0604],[25.9,.0629],[23.2,.0615],[29.1,.0623],[20.8,.0640],[26.6,.0608],[22.7,.0621],[31.2,.0613],[21.8,.0599],[24.1,.0632],[28.3,.0606],[20.1,.0617],[23.7,.0643],[26.2,.0620],[22.4,.0610],[30.1,.0627],
[21.0,.0630],[25.3,.0601],[27.0,.0635],[23.0,.0619],[20.6,.0609],[24.5,.0626],[28.8,.0614],[21.6,.0622],[26.9,.0597],[22.9,.0633],[25.6,.0616],[29.7,.0609],[20.3,.0603],[23.5,.0611],[27.9,.0628],[21.4,.0639],[24.3,.0618],[31.8,.0604],[22.2,.0624],[25.1,.0612],
[4.87,.0401],[4.87,.0340],[5.4,.0376],[5.5,.0498],[5.5,.0378],[5.9,.0443],[6.2,.0471],[6.6,.0378],[6.9,.0512],[7.4,.0456],[7.5,.0352],[7.7,.0428],[8.0,.0489],[8.8,.0437],[9.5,.0503],[9.9,.0415],[10.3,.0462],[11.2,.0519],[11.6,.0392],[12.0,.0478],
[13.0,.0445],[13.3,.0369],[13.9,.0508],[14.5,.0453],[15.0,.0481],[16.2,.0429],[16.9,.0329],[17.4,.0496],[18.8,.0517],[19.5,.0440],[20.1,.0468],[21.7,.0502],[23.5,.0525],[8.4,.0531],[12.6,.0540],[6.3,.0541],[10.8,.0537],[17.9,.0545],[25.5,.0548],[9.2,.0552],
[1.98,.0694],[2.1,.0678],[2.3,.0690],[2.55,.0686],[3.3,.0672],[6.5,.0701],[6.9,.0698],[13.6,.0693],[18.4,.0702],[27.5,.0689],[31.5,.0697],[9.2,.0682],[4.2,.0668],[11.5,.0676],[23.5,.0721],[15.8,.0698],[21.0,.0685],[3.8,.0660],[8.1,.0673],[26.0,.0671],
[12.3,.0665],[5.2,.0670],[19.0,.0680],[30.5,.0662],[16.8,.0668],[2.8,.0655],[3.5,.0649],[2.45,.0640]
];
var pionGasSpread = [
[5.3,.0562],[7.9,.0648],[10.6,.0571],[13.4,.0655],[6.2,.0649],[16.8,.0577],[8.4,.0564],[11.8,.0659],[5.8,.0641],[20.5,.0649],[9.1,.0571],[14.9,.0583],[6.7,.0556],[12.5,.0662],[7.3,.0651],[18.1,.0654],[10.0,.0558],[24.2,.0583],[5.5,.0638],[8.7,.0663],
[15.6,.0569],[6.5,.0568],[11.1,.0653],[9.6,.0646],[21.6,.0575],[7.6,.0558],[13.0,.0578],[5.2,.0554],[17.5,.0660],[8.2,.0655],[10.3,.0667],[26.1,.0646],[6.0,.0659],[12.1,.0569],[14.2,.0668],[7.0,.0643],[19.3,.0581],[9.3,.0661],[5.7,.0573],[11.5,.0580],
[8.9,.0575],[13.7,.0647],[6.3,.0574],[16.4,.0663],[10.9,.0578],[7.7,.0666],[22.8,.0656],[5.4,.0647],[12.8,.0580],[9.8,.0563],[18.7,.0571],[6.9,.0660],[14.5,.0652],[8.1,.0569],[11.4,.0672],[28.0,.0638],[5.95,.0551],[10.5,.0657],[15.9,.0649],[7.45,.0645],
[12.3,.0654],[6.1,.0552],[9.4,.0579],[17.0,.0574],[7.2,.0573],[13.9,.0573],[5.6,.0663],[11.0,.0566],[20.0,.0667],[8.5,.0650],[14.7,.0577],[6.6,.0652],[10.2,.0584],[25.0,.0571],[7.85,.0671],[12.6,.0644],[18.4,.0645],[9.0,.0653],[5.25,.0643],[16.2,.0651],
[10.8,.0647],[7.5,.0579],[13.2,.0668],[6.4,.0664],[19.7,.0658],[8.8,.0582],[11.6,.0573],[15.3,.0656],[5.9,.0560],[9.9,.0674],[22.0,.0577],[7.1,.0566],[12.0,.0651],[17.8,.0648],[6.8,.0578],[10.1,.0576],[14.0,.0662],[8.3,.0644],[27.0,.0653],[9.55,.0657],
[6.25,.0669],[11.3,.0661],[8.0,.0671],[14.4,.0648],[5.35,.0583],[12.9,.0676],[16.6,.0580],[9.2,.0568],[7.35,.0662],[10.45,.0569],[21.0,.0648],[6.05,.0642],[13.6,.0581],[8.6,.0561],[18.9,.0662],[11.9,.0576],[5.75,.0657],[15.1,.0666],[9.75,.0581],[23.6,.0663],
[7.95,.0584],[12.2,.0566],[6.85,.0575],[16.0,.0671],[9.45,.0648],[5.15,.0567],[13.8,.0653],[10.7,.0653],[7.65,.0650],[20.8,.0582],[11.7,.0668],[8.45,.0577],[14.8,.0664],[6.45,.0553],[18.0,.0586],[9.65,.0572],[12.7,.0659],[5.65,.0669],[15.8,.0584],[25.7,.0658],
[8.15,.0658],[10.95,.0585],[6.75,.0671],[13.3,.0560],[17.3,.0667],[7.15,.0652],[9.95,.0652],[11.45,.0644],[14.1,.0579],[5.45,.0655],
[2.92,.0372],[3.32,.0381],[3.55,.0366],[2.42,.0362],[3.15,.0394],[3.7,.0407],[2.6,.0405],[3.95,.0428],[2.72,.0420],[4.2,.0446],
[3.4,.0452],[4.45,.0461],[2.88,.0447],[4.6,.0476],[3.05,.0458],[4.85,.0490],[3.25,.0479],[5.1,.0502],[3.5,.0505],[5.35,.0514],
[3.6,.0518],[5.75,.0528],[3.85,.0531],[6.0,.0541],[4.1,.0539],[6.4,.0550],[4.3,.0556],[6.8,.0556],[4.05,.0547],[7.2,.0566],
[3.45,.0533],[5.5,.0495],[2.8,.0455],[4.7,.0468],[3.2,.0466],[5.9,.0519],[3.9,.0493],[6.2,.0532],[2.5,.0392],[4.4,.0509],
[3.1,.0512],[3.75,.0549],[2.65,.0433],[4.95,.0457],[3.35,.0424],[5.25,.0487],[2.98,.0491],[4.25,.0481],[3.62,.0446],[5.6,.0557],
[2.58,.0352],[3.02,.0365],[2.76,.0388],[3.48,.0413],[2.48,.0378],[3.82,.0438],[2.95,.0417],[4.15,.0469],[3.28,.0437],[4.55,.0497],
[3.3,.0637],[3.6,.0652],[3.75,.0621],[3.45,.0609],[3.95,.0644],[4.25,.0657],[3.55,.0628],[4.0,.0598],[3.85,.0666],[4.4,.0646]
];
var pionGasCore = [
[6.2,.0598],[9.4,.0609],[12.7,.0617],[16.9,.0620],[7.5,.0604],[10.8,.0612],[14.3,.0618],[19.6,.0622],[5.8,.0592],[8.6,.0606],[11.7,.0614],[15.5,.0621],[21.5,.0619],[6.9,.0601],[9.9,.0610],[13.5,.0616],[18.1,.0624],[7.9,.0608],[11.2,.0607],[16.2,.0615],
[6.5,.0594],[10.2,.0617],[13.0,.0611],[17.6,.0626],[8.2,.0611],[12.2,.0620],[14.9,.0613],[20.4,.0617],[7.2,.0599],[9.1,.0603],[11.5,.0619],[15.1,.0616],[22.6,.0625],[6.0,.0597],[8.9,.0614],[12.5,.0609],[17.2,.0619],[10.5,.0604],[13.8,.0622],[18.8,.0613],
[7.7,.0596],[11.0,.0616],[14.0,.0610],[19.2,.0627],[6.7,.0605],[9.6,.0600],[12.9,.0623],[16.5,.0611],[8.4,.0602],[10.7,.0621],[13.3,.0605],[15.8,.0624],[21.0,.0614],[5.6,.0588],[9.2,.0615],[11.9,.0611],[14.6,.0625],[18.5,.0609],[7.0,.0609],[10.0,.0605],
[12.3,.0613],[16.0,.0628],[23.5,.0618],[6.35,.0607],[8.75,.0598],[11.35,.0622],[13.7,.0614],[17.9,.0616],[7.35,.0612],[9.75,.0617],[12.0,.0606],[15.3,.0612],[20.0,.0623],[5.95,.0602],[8.05,.0616],[10.35,.0609],[14.2,.0607],[16.7,.0622],[7.85,.0601],[11.6,.0626],
[13.2,.0619],[19.0,.0620],[6.6,.0610],[9.0,.0608],[12.6,.0627],[15.0,.0619],[22.0,.0611],[8.3,.0620],[10.9,.0600],[14.5,.0614],[6.05,.0604],[9.5,.0612],[11.1,.0618],[13.9,.0609],[17.3,.0613],[7.6,.0614],[10.55,.0615],[12.85,.0612],[16.3,.0618],[18.3,.0626]
];

// ---- layout ----
var W = 459.3, TOP = 1.5, MID = 521.7, BOT = 674.3;
var insetP = 12.4, insetTheta = 0.5948;
var green = "#00ff00";

var x = d3.scaleLog().domain([0.7, 45.6]).range([0, W]);
var yLiq = d3.scaleLinear().domain([0.6, 0.7]).range([209.3, 36]);
var yGas = d3.scaleLinear().domain([0.04, 0.08]).range([459, 143.3]);
var yN = d3.scaleLinear().domain([0, 100]).range([BOT, 541.7]);

var svg = d3.select("body").append("svg").attr("width", 1199).attr("height", 733);
svg.append("rect").attr("width", 1199).attr("height", 733).attr("fill", "#fff");

function ticks(g, gen, vals, size, pad, fmt) {
  var s = g.append("g").call(gen.tickValues(vals).tickSize(size).tickPadding(pad).tickFormat(fmt || ""));
  s.select(".domain").remove();
  s.attr("font-family", null).attr("font-size", 17).attr("font-weight", "bold");
  s.selectAll("line").attr("stroke", "#000").attr("stroke-width", 1.3);
  s.selectAll("text").attr("fill", "#000");
  return s;
}

function panel(px, id, tag, who, liquid, gas, veto) {
  var g = svg.append("g").attr("transform", "translate(" + px + ",0)");
  var xi = x(insetP), yi = yLiq(insetTheta);

  g.append("clipPath").attr("id", id + "main").append("rect")
      .attr("x", 0).attr("y", TOP).attr("width", W).attr("height", MID - TOP);
  g.append("clipPath").attr("id", id + "inset").append("rect")
      .attr("x", 0).attr("y", TOP).attr("width", xi).attr("height", yi - TOP);

  // gas veto histogram
  var hist = veto.map(function(n, i) { return [binEdges[i], n]; });
  hist.push([binEdges[veto.length], veto[veto.length - 1]]);
  g.append("path").datum(hist)
      .attr("d", d3.area().x(function(d) { return x(d[0]); }).y0(yN(0))
        .y1(function(d) { return yN(d[1]); }).curve(d3.curveStepAfter))
      .attr("fill", "#ffff00").attr("stroke", "#000").attr("stroke-width", 1.6);

  // gas radiator
  var gm = g.append("g").attr("clip-path", "url(#" + id + "main)");
  gm.selectAll("circle").data(gas).join("circle")
      .attr("cx", function(d) { return x(d[0]); })
      .attr("cy", function(d) { return yGas(d[1]); })
      .attr("r", 1.9).attr("fill", green);
  var gl = d3.line().x(function(d) { return x(d[0]); }).y(function(d) { return yGas(d[1]); }).curve(d3.curveMonotoneX);
  [[gasPi, null], [gasK, null], [gasP, "3,3"]].forEach(function(c) {
    gm.append("path").attr("d", gl(c[0])).attr("fill", "none").attr("stroke", "#000")
      .attr("stroke-width", c[1] ? 1.3 : 1.6).attr("stroke-dasharray", c[1]);
  });

  // liquid radiator inset
  g.append("rect").attr("x", 0).attr("y", TOP).attr("width", xi).attr("height", yi - TOP).attr("fill", "#fff");
  var gi = g.append("g").attr("clip-path", "url(#" + id + "inset)");
  gi.selectAll("circle").data(liquid).join("circle")
      .attr("cx", function(d) { return x(d[0]); })
      .attr("cy", function(d) { return yLiq(d[1]); })
      .attr("r", 1.9).attr("fill", green);
  var ll = d3.line().x(function(d) { return x(d[0]); }).y(function(d) { return yLiq(d[1]); }).curve(d3.curveMonotoneX);
  [[liqPi, null], [liqK, null], [liqP, "3,3"]].forEach(function(c) {
    gi.append("path").attr("d", ll(c[0])).attr("fill", "none").attr("stroke", "#000")
      .attr("stroke-width", c[1] ? 1.4 : 2).attr("stroke-dasharray", c[1]);
  });
  g.append("rect").attr("x", 0).attr("y", TOP).attr("width", xi).attr("height", yi - TOP)
      .attr("fill", "none").attr("stroke", "#000").attr("stroke-width", 1.8);

  // axes
  var f1 = d3.format(".1f"), f2 = d3.format(".2f");
  ticks(g, d3.axisLeft(yLiq), [0.5, 0.6, 0.7], -8, 13, f1);
  ticks(g, d3.axisLeft(yLiq), d3.range(0.425, 0.71, 0.025).filter(function(v) { return Math.abs(v * 10 - Math.round(v * 10)) > 0.01; }), -4, 0);
  var gr = g.append("g").attr("transform", "translate(" + W + ",0)");
  ticks(gr, d3.axisRight(yGas), [0.04, 0.06, 0.08], -6, 12, f2);
  ticks(gr, d3.axisRight(yGas), d3.range(0.035, 0.096, 0.005).filter(function(v) { return Math.abs(v * 50 - Math.round(v * 50)) > 0.01; }), -3, 0);
  var nMinor = d3.range(5, 111, 5).filter(function(v) { return v % 25 !== 0; });
  ticks(g, d3.axisLeft(yN), [0, 25, 50, 75, 100], -6, 13, d3.format("d"));
  ticks(g, d3.axisLeft(yN), nMinor, -3, 0);
  ticks(gr, d3.axisRight(yN), [0, 25, 50, 75, 100], -6, 12, d3.format("d"));
  ticks(gr, d3.axisRight(yN), nMinor, -3, 0);
  var pMinor = [0.8, 0.9, 2, 3, 4, 5, 6, 7, 8, 9, 20, 30, 40];
  var gb1 = g.append("g").attr("transform", "translate(0," + MID + ")");
  ticks(gb1, d3.axisBottom(x), [1, 10], -5, 0);
  ticks(gb1, d3.axisBottom(x), pMinor, -3, 0);
  var gb2 = g.append("g").attr("transform", "translate(0," + BOT + ")");
  ticks(gb2, d3.axisBottom(x), [1, 10], -6, 15, d3.format("d"));
  ticks(gb2, d3.axisBottom(x), pMinor, -3, 0);

  // frame
  var fr = d3.path();
  fr.moveTo(0, TOP); fr.lineTo(W, TOP); fr.lineTo(W, BOT); fr.lineTo(0, BOT); fr.closePath();
  fr.moveTo(0, MID); fr.lineTo(W, MID);
  g.append("path").attr("d", fr.toString()).attr("fill", "none").attr("stroke", "#000").attr("stroke-width", 2);

  // labels
  function txt(t, tx, ty, size, anchor) {
    return g.append("text").attr("x", tx).attr("y", ty).attr("font-size", size)
      .attr("text-anchor", anchor || "start").attr("fill", "#000").text(t);
  }
  txt("liquid radiator", 90, 34, 22);
  txt(tag, 448, 35, 22, "end");
  txt("gas radiator", 332, 113, 22);
  txt("\u03c0", 21.7, 112, 22).attr("font-weight", "normal");
  txt("K", 60, 209, 22);
  txt("p", 131.7, 209, 22);
  txt("\u03c0", 168, 503, 22).attr("font-weight", "normal");
  txt("K", 305, 503, 22);
  txt("p", 384, 503, 22);
  txt(who, 68, 321.7, 26, "middle");
  var fd = txt("from D", 16.7, 374, 26);
  fd.append("tspan").attr("font-size", 18).attr("dy", -11).text("*+");
  txt("gas veto", 329, 560, 22);
  txt("P [GeV/c]", 489, 725, 18, "end");
  g.append("text").attr("transform", "translate(-68,530) rotate(-90)").attr("text-anchor", "middle")
      .attr("dy", "0.35em").attr("font-size", 18).attr("fill", "#000").text("N");
  var th = g.append("text").attr("transform", "translate(-62,72) rotate(-90)").attr("font-size", 18).attr("fill", "#000");
  th.append("tspan").text("\u0398");
  th.append("tspan").attr("font-size", 12).attr("dy", 4).text("c");
  th.append("tspan").attr("dy", -4).text(" in deg");
}

panel(80, "a", "(a)", "kaons", kaonLiquid.concat(kaonLiquidSpread, kaonLiquidCore),
      kaonGas.concat(kaonGasSpread, kaonGasBandCore), kaonVeto);
panel(689.3, "b", "(b)", "pions", pionLiquid.concat(pionLiquidSpread, pionLiquidCore),
      pionGas.concat(pionGasSpread, pionGasCore), pionVeto);
</script>
</body>
</html>
